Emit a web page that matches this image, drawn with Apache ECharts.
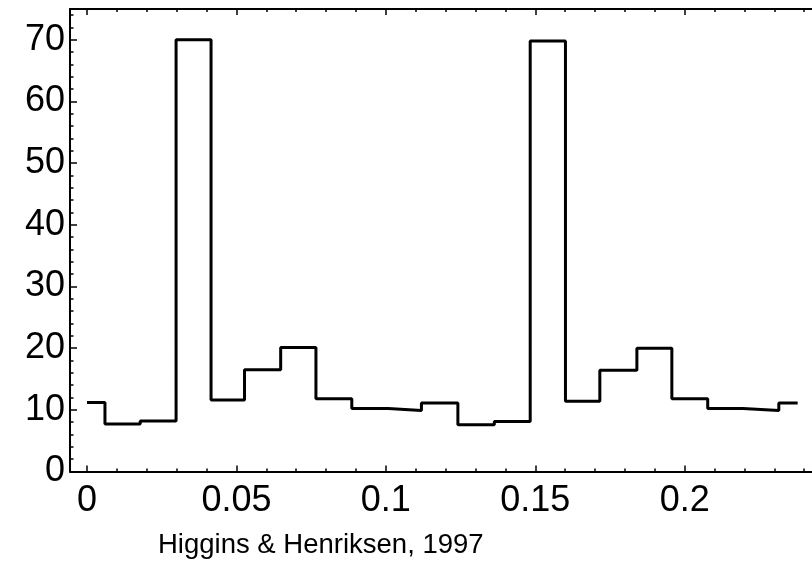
<!DOCTYPE html>
<html>
<head>
<meta charset="utf-8">
<script src="https://cdn.jsdelivr.net/npm/echarts@6/dist/echarts.min.js"></script>
<style>
html,body{margin:0;padding:0;background:#fff;}
#chart{width:812px;height:561px;}
</style>
</head>
<body>
<div id="chart"></div>
<script>
// Bin edges (x) and the level of each bin (y)
var binEdges = [0, 0.0060, 0.0178, 0.0298, 0.0415, 0.0527, 0.0648, 0.0766, 0.0886, 0.1008, 0.1119,
                0.1241, 0.1363, 0.1483, 0.1601, 0.1716, 0.1840, 0.1957, 0.2077, 0.2195, 0.2315, 0.2378];
var binLevels = [11.2, 7.7, 8.2, 70, 11.6, 16.5, 20.1, 11.8, 10.2, 9.9, 11.1,
                 7.6, 8.1, 69.8, 11.4, 16.4, 20.0, 11.8, 10.2, 9.9, 11.1];

var xMajorTicks = [0, 0.05, 0.1, 0.15, 0.2];
var xMinorTicks = [0.01, 0.02, 0.03, 0.04, 0.06, 0.07, 0.08, 0.09, 0.11, 0.12, 0.13, 0.14,
                   0.16, 0.17, 0.18, 0.19, 0.21, 0.22, 0.23, 0.24];
var yMajorTicks = [0, 10, 20, 30, 40, 50, 60, 70];
var yMinorTicks = [2, 4, 6, 8, 12, 14, 16, 18, 22, 24, 26, 28, 32, 34, 36, 38, 42, 44, 46, 48,
                   52, 54, 56, 58, 62, 64, 66, 68, 72, 74];
var xLabelText = {'0': '0', '0.05': '0.05', '0.1': '0.1', '0.15': '0.15', '0.2': '0.2'};
var creditText = 'Higgins & Henriksen, 1997';

var X_MIN = -0.0057, X_MAX = 0.2426, Y_MIN = 0, Y_MAX = 75;

var stepData = [];
for (var i = 0; i < binLevels.length; i++) stepData.push([binEdges[i], binLevels[i]]);
stepData.push([binEdges[binEdges.length - 1], binLevels[binLevels.length - 1]]);

var FONT = '"Liberation Sans", Arial, Helvetica, sans-serif';
var lineStyle = {color: '#000', width: 2};

function xAxisDef(pos, ticks, len, showLine, showLabel) {
  return {
    type: 'value', position: pos, min: X_MIN, max: X_MAX,
    axisLine: {show: showLine, onZero: false, lineStyle: lineStyle},
    axisTick: {show: true, inside: true, length: len, customValues: ticks, lineStyle: {color: '#000', width: 1.5}},
    axisLabel: showLabel ? {
      show: true, customValues: ticks, color: '#000', fontSize: 36, fontFamily: FONT, margin: 12,
      formatter: function (v) { return xLabelText[String(+v.toFixed(4))] || String(v); }
    } : {show: false},
    splitLine: {show: false}
  };
}
function yAxisDef(ticks, len, showLine, showLabel) {
  return {
    type: 'value', position: 'left', min: Y_MIN, max: Y_MAX,
    axisLine: {show: showLine, onZero: false, lineStyle: lineStyle},
    axisTick: {show: true, inside: true, length: len, customValues: ticks, lineStyle: {color: '#000', width: 1.5}},
    axisLabel: showLabel ? {
      show: true, customValues: ticks, color: '#000', fontSize: 36, fontFamily: FONT, margin: 5
    } : {show: false},
    splitLine: {show: false}
  };
}

var chart = echarts.init(document.getElementById('chart'), null, {renderer: 'canvas'});
chart.setOption({
  animation: false,
  backgroundColor: '#fff',
  grid: {left: 70, top: 9, bottom: 89.5, right: -4, containLabel: false},
  xAxis: [
    xAxisDef('bottom', xMajorTicks, 6, true, true),
    xAxisDef('bottom', xMinorTicks, 3, false, false),
    xAxisDef('top', xMajorTicks, 6, true, false),
    xAxisDef('top', xMinorTicks, 3, false, false)
  ],
  yAxis: [
    yAxisDef(yMajorTicks, 7, true, true),
    yAxisDef(yMinorTicks, 3.5, false, false)
  ],
  series: [{
    type: 'line', xAxisIndex: 0, yAxisIndex: 0, step: 'end', symbol: 'none',
    data: stepData, lineStyle: {color: '#000', width: 3}, clip: false
  }],
  graphic: [{
    type: 'text', left: 158, top: 531,
    style: {text: creditText, fill: '#000', font: '27.5px ' + FONT}
  }]
});
</script>
</body>
</html>
